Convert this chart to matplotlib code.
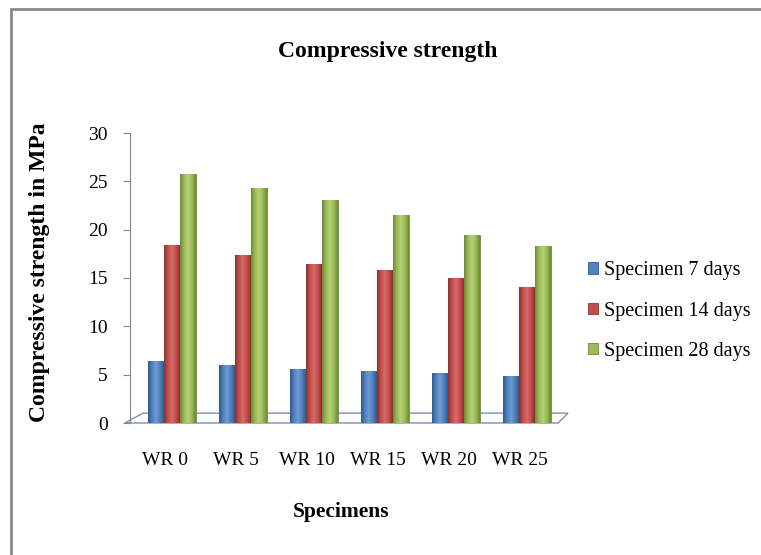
import numpy as np
import matplotlib
matplotlib.use('Agg')
import matplotlib.pyplot as plt
from matplotlib.patches import Polygon, Rectangle
from matplotlib.colors import LinearSegmentedColormap

plt.rcParams['font.family'] = 'Liberation Serif'

# data
specimens = ['WR 0', 'WR 5', 'WR 10', 'WR 15', 'WR 20', 'WR 25']
days_7 = [6.4, 6.0, 5.6, 5.4, 5.2, 4.9]
days_14 = [18.4, 17.4, 16.5, 15.8, 15.0, 14.1]
days_28 = [25.8, 24.3, 23.1, 21.5, 19.4, 18.3]
series_names = ['Specimen 7 days', 'Specimen 14 days', 'Specimen 28 days']
colors = ['#4F81BD', '#C0504D', '#9BBB59']
darks = ['#2E5B91', '#8E2F2C', '#6C8B34']
lights = ['#6F9BD3', '#D76A67', '#B5D377']

W, H = 761, 555
fig = plt.figure(figsize=(W / 100, H / 100), dpi=100)

# outer chart border (only top/left edges visible in the reference)
fig.patches.append(Rectangle((11 / W, -0.1), 1.2, 1 - 9 / H + 0.1, transform=fig.transFigure,
                             fill=False, edgecolor='#8A8A8A', linewidth=2))

ax = fig.add_axes([130 / W, 1 - 423 / H, 435 / W, 290 / H])

x = np.arange(len(specimens))
bw = 0.225
off = 0.225
grad = np.linspace(0, 1, 64).reshape(1, -1)
for i, vals in enumerate([days_7, days_14, days_28]):
    bars = ax.bar(x + (i - 1) * off, vals, bw, color=colors[i], edgecolor=darks[i],
                  linewidth=0.6, label=series_names[i], zorder=3)
    cmap = LinearSegmentedColormap.from_list('c%d' % i,
                                             [darks[i], colors[i], lights[i], colors[i], darks[i]])
    for b in bars:
        bx, by = b.get_x(), b.get_y()
        im = ax.imshow(grad, cmap=cmap, aspect='auto', zorder=4,
                       extent=(bx, bx + b.get_width(), by, by + b.get_height()))
        im.set_clip_path(b)

# floor of the pseudo-3D plot
floor = Polygon([(-0.012, 0), (0.984, 0), (1.007, 0.034), (0.03, 0.034)], closed=True,
                transform=ax.transAxes, facecolor='white', edgecolor='#7F8FB0',
                linewidth=1.0, clip_on=False, zorder=1)
ax.add_patch(floor)

ax.set_xlim(-0.59, 5.54)
ax.set_ylim(0, 30)
ax.set_yticks(range(0, 31, 5))
ax.set_xticks(x - 0.1)
ax.set_xticklabels(specimens)
for s in ['top', 'right', 'bottom']:
    ax.spines[s].set_visible(False)
ax.spines['left'].set_color('#868686')
ax.tick_params(axis='y', length=5, color='#868686', labelsize=14, pad=11)
ax.tick_params(axis='x', length=0, labelsize=14, pad=21)
ax.patch.set_alpha(0)

fig.text(388 / W, 1 - 52 / H, 'Compressive strength', ha='center', va='center',
         fontsize=17, fontweight='bold')
fig.text(40 / W, 1 - 272 / H, 'Compressive strength in MPa', ha='center', va='center',
         rotation=90, fontsize=17, fontweight='bold')
fig.text(341 / W, 1 - 512 / H, 'Specimens', ha='center', va='center',
         fontsize=15.5, fontweight='bold')

ax.legend(loc='center left', bbox_to_anchor=(578 / W, 1 - 311 / H), bbox_transform=fig.transFigure,
          frameon=False, fontsize=14.5, handlelength=0.5, handleheight=0.5, handletextpad=0.3,
          labelspacing=1.05, borderpad=0)

fig.savefig('out.png', dpi=100)
